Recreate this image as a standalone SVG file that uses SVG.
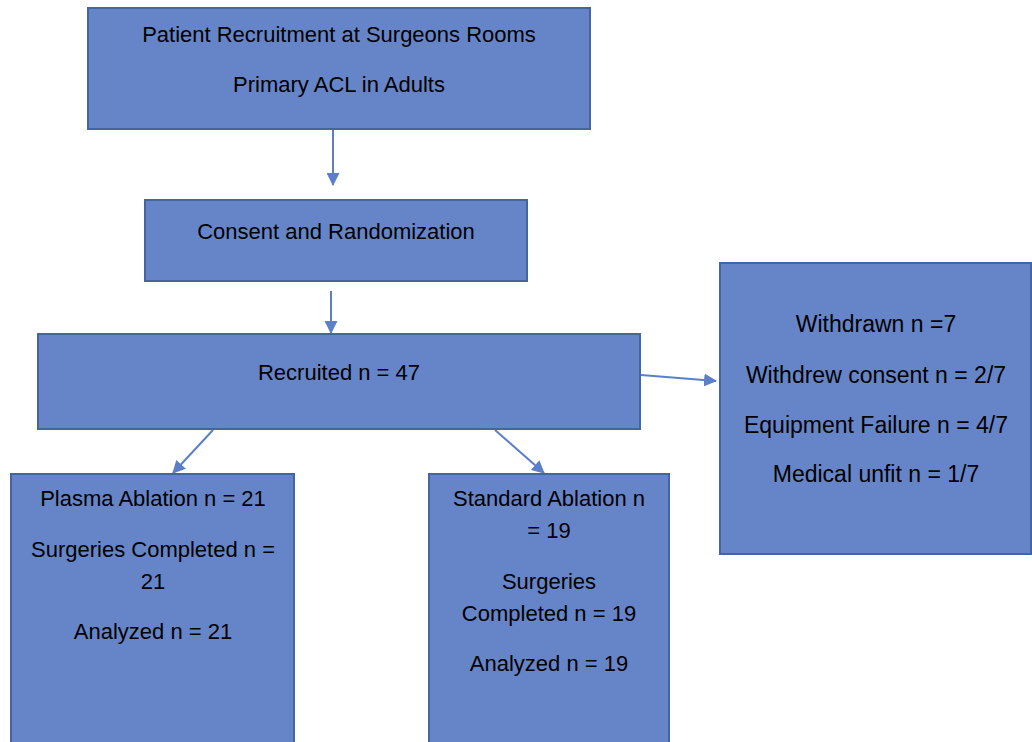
<svg xmlns="http://www.w3.org/2000/svg" width="1032" height="742" viewBox="0 0 1032 742">
<defs>
<style>
.box{fill:#6685c8;stroke:#4466a0;stroke-width:2}
.t{font-family:"Liberation Sans",Arial,sans-serif;font-size:22px;fill:#000;text-anchor:middle}
.w{font-size:23px}
.c{stroke:#5b7fc8;stroke-width:2;fill:none}
</style>
<marker id="a" viewBox="0 0 12 12" refX="11" refY="6" markerWidth="13" markerHeight="13" markerUnits="userSpaceOnUse" orient="auto">
<path d="M0,0 L12,6 L0,12 z" fill="#5b7fc8"/>
</marker>
</defs>
<rect width="1032" height="742" fill="#fff"/>
<g id="connectors">
<line class="c" x1="333" y1="130" x2="333" y2="185" marker-end="url(#a)"/>
<line class="c" x1="331" y1="291" x2="331" y2="333" marker-end="url(#a)"/>
<line class="c" x1="641" y1="375" x2="716" y2="381" marker-end="url(#a)"/>
<line class="c" x1="213" y1="430" x2="173" y2="473" marker-end="url(#a)"/>
<line class="c" x1="495" y1="430" x2="544" y2="473" marker-end="url(#a)"/>
</g>
<g id="recruitment">
<rect class="box" x="88" y="8" width="502" height="121"/>
<text class="t" x="339" y="42">Patient Recruitment at Surgeons Rooms</text>
<text class="t" x="339" y="92">Primary ACL in Adults</text>
</g>
<g id="consent">
<rect class="box" x="145" y="200" width="382" height="81"/>
<text class="t" x="336" y="239">Consent and Randomization</text>
</g>
<g id="recruited">
<rect class="box" x="38" y="334" width="602" height="95"/>
<text class="t" x="339" y="380">Recruited n = 47</text>
</g>
<g id="withdrawn">
<rect class="box" x="720" y="263" width="311" height="291"/>
<text class="t w" x="876" y="332">Withdrawn n =7</text>
<text class="t w" x="876" y="383">Withdrew consent n = 2/7</text>
<text class="t w" x="876" y="433">Equipment Failure n = 4/7</text>
<text class="t w" x="876" y="482">Medical unfit n = 1/7</text>
</g>
<g id="plasma">
<rect class="box" x="11" y="474" width="283" height="270"/>
<text class="t" x="153" y="506">Plasma Ablation n = 21</text>
<text class="t" x="153" y="557">Surgeries Completed n =</text>
<text class="t" x="153" y="589">21</text>
<text class="t" x="153" y="639">Analyzed n = 21</text>
</g>
<g id="standard">
<rect class="box" x="429" y="474" width="240" height="270"/>
<text class="t" x="549" y="506">Standard Ablation n</text>
<text class="t" x="549" y="538">= 19</text>
<text class="t" x="549" y="589">Surgeries</text>
<text class="t" x="549" y="621">Completed n = 19</text>
<text class="t" x="549" y="671">Analyzed n = 19</text>
</g>
</svg>
